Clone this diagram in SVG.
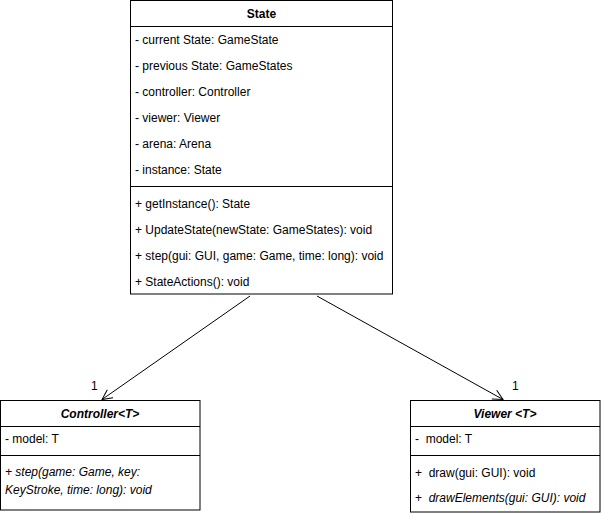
<svg xmlns="http://www.w3.org/2000/svg" width="601" height="516" viewBox="0 0 601 516">
  <style>
    .box { fill: #ffffff; stroke: #000000; stroke-width: 1; }
    .sep { stroke: #000000; stroke-width: 1; }
    text { font-family: "Liberation Sans", Arial, sans-serif; font-size: 12px; fill: #000000; }
    .title { font-weight: bold; text-anchor: middle; }
    .it { font-style: italic; }
    .edge { fill: none; stroke: #000000; stroke-width: 1; }
  </style>
  <defs>
    <marker id="open" viewBox="0 0 12 12" refX="11" refY="6" markerWidth="12" markerHeight="12" markerUnits="userSpaceOnUse" orient="auto">
      <path d="M1,1 L11,6 L1,11" fill="none" stroke="#000000" stroke-width="1"/>
    </marker>
  </defs>

  <rect width="601" height="516" fill="#ffffff"/>

  <g id="state">
    <rect class="box" x="130.5" y="0.5" width="262" height="293.5"/>
    <line class="sep" x1="130.5" y1="26.5" x2="392.5" y2="26.5"/>
    <line class="sep" x1="130.5" y1="186.5" x2="392.5" y2="186.5"/>
    <text class="title" x="261.5" y="18">State</text>
    <text x="135" y="44">- current State: GameState</text>
    <text x="135" y="70">- previous State: GameStates</text>
    <text x="135" y="96">- controller: Controller</text>
    <text x="135" y="122">- viewer: Viewer</text>
    <text x="135" y="148">- arena: Arena</text>
    <text x="135" y="174">- instance: State</text>
    <text x="135" y="208">+ getInstance(): State</text>
    <text x="135" y="234">+ UpdateState(newState: GameStates): void</text>
    <text x="135" y="260">+ step(gui: GUI, game: Game, time: long): void</text>
    <text x="135" y="286">+ StateActions(): void</text>
  </g>

  <g id="controller">
    <rect class="box" x="0.5" y="400.5" width="199.5" height="109.5"/>
    <line class="sep" x1="0.5" y1="426.5" x2="200" y2="426.5"/>
    <line class="sep" x1="0.5" y1="455.5" x2="200" y2="455.5"/>
    <text class="title it" x="100" y="418">Controller&lt;T&gt;</text>
    <text x="5" y="443">- model: T</text>
    <text class="it" x="5" y="476">+ step(game: Game, key:</text>
    <text class="it" x="5" y="494">KeyStroke, time: long): void</text>
  </g>

  <g id="viewer">
    <rect class="box" x="410.5" y="400.5" width="189.5" height="111.5"/>
    <line class="sep" x1="410.5" y1="426.5" x2="600" y2="426.5"/>
    <line class="sep" x1="410.5" y1="455.5" x2="600" y2="455.5"/>
    <text class="title it" x="505" y="418">Viewer &lt;T&gt;</text>
    <text x="415" y="443" xml:space="preserve">-  model: T</text>
    <text x="415" y="477" xml:space="preserve">+  draw(gui: GUI): void</text>
    <text x="415" y="502" xml:space="preserve">+  <tspan class="it">drawElements(gui: GUI): void</tspan></text>
  </g>

  <g id="connectors">
    <path class="edge" d="M250,296 L102,399.5" marker-end="url(#open)"/>
    <path class="edge" d="M317,296 L503,399.5" marker-end="url(#open)"/>
    <text x="91" y="390">1</text>
    <text x="512" y="390">1</text>
  </g>
</svg>
